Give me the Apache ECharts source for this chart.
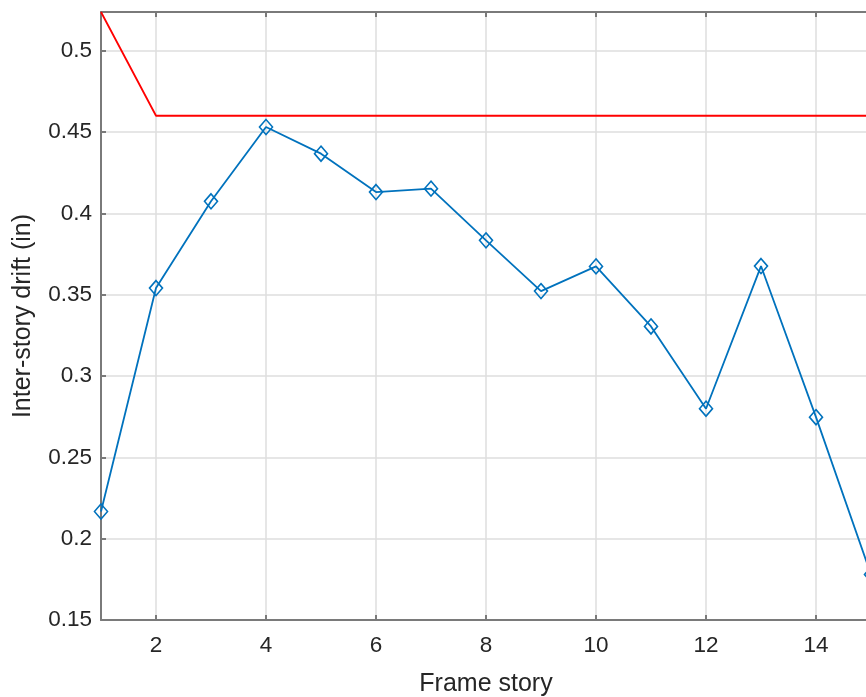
<!DOCTYPE html>
<html>
<head>
<meta charset="utf-8">
<script src="https://cdn.jsdelivr.net/npm/echarts@6/dist/echarts.min.js"></script>
<style>
  html, body { margin: 0; padding: 0; background: #ffffff; overflow: hidden; }
  #chart { width: 866px; height: 697px; }
</style>
</head>
<body>
<div id="chart"></div>
<script>
// Story numbers along the frame height
const stories = [1, 2, 3, 4, 5, 6, 7, 8, 9, 10, 11, 12, 13, 14, 15];
// Computed inter-story drift per story (in)
const drift = [0.2167, 0.3541, 0.4074, 0.4531, 0.4367, 0.4131, 0.4152, 0.3834,
               0.3522, 0.3674, 0.3305, 0.2799, 0.3676, 0.2747, 0.178];
// Allowable drift limit per story (in)
const driftLimit = [0.5238, 0.46, 0.46, 0.46, 0.46, 0.46, 0.46, 0.46,
                    0.46, 0.46, 0.46, 0.46, 0.46, 0.46, 0.46];
// Axis ticks
const xTicks = [2, 4, 6, 8, 10, 12, 14];
const yMin = 0.15, yMax = 0.5238, yStep = 0.05;

const textColor = '#262626';
const axisColor = '#7a7a7a';
const gridColor = '#dedede';
const font = 'Liberation Sans, Arial, Helvetica, sans-serif';

const chart = echarts.init(document.getElementById('chart'), null, { renderer: 'canvas' });

function pairs(xs, ys) { return xs.map((x, i) => [x, ys[i]]); }

const xBase = {
  type: 'value', min: 1, max: 15,
  axisLine: { show: true, onZero: false, lineStyle: { color: axisColor, width: 2 } },
  axisTick: { show: true, inside: true, length: 5, customValues: xTicks, lineStyle: { color: axisColor, width: 2 } }
};
const yBase = {
  type: 'value', min: yMin, max: yMax, interval: yStep,
  axisLine: { show: true, onZero: false, lineStyle: { color: axisColor, width: 2 } },
  axisTick: { show: true, inside: true, length: 5, lineStyle: { color: axisColor, width: 2 } }
};

chart.setOption({
  backgroundColor: '#ffffff',
  animation: false,
  // fixed plot box; the frame runs to story 15, just past the right edge
  grid: { left: 101, top: 12, width: 770, height: 608, containLabel: false, outerBoundsMode: 'none' },
  xAxis: [
    Object.assign({}, xBase, {
      position: 'bottom',
      name: 'Frame story', nameLocation: 'middle', nameGap: 52,
      nameTextStyle: { color: textColor, fontSize: 25, fontFamily: font },
      axisLabel: { show: true, customValues: xTicks, margin: 14, color: textColor, fontSize: 22.5, fontFamily: font },
      splitLine: { show: true, lineStyle: { color: gridColor, width: 1.5 } }
    }),
    Object.assign({}, xBase, {
      position: 'top',
      axisLabel: { show: false },
      splitLine: { show: false }
    })
  ],
  yAxis: [
    Object.assign({}, yBase, {
      position: 'left',
      name: 'Inter-story drift (in)', nameLocation: 'middle', nameGap: 65,
      nameTextStyle: { color: textColor, fontSize: 25, fontFamily: font },
      axisLabel: {
        show: true, margin: 9, color: textColor, fontSize: 22.5, fontFamily: font,
        showMaxLabel: false,
        formatter: v => String(+v.toFixed(2))
      },
      splitLine: { show: true, showMaxLine: false, lineStyle: { color: gridColor, width: 1.5 } }
    }),
    Object.assign({}, yBase, {
      position: 'right',
      axisLabel: { show: false },
      splitLine: { show: false }
    })
  ],
  series: [
    {
      type: 'line',
      data: pairs(stories, driftLimit),
      showSymbol: false,
      symbol: 'none',
      lineStyle: { color: '#ff0000', width: 1.8 },
      itemStyle: { color: '#ff0000' },
      z: 3
    },
    {
      type: 'line',
      data: pairs(stories, drift),
      symbol: 'diamond',
      symbolSize: [13, 15],
      showAllSymbol: true,
      lineStyle: { color: '#0072bd', width: 1.8 },
      itemStyle: { color: 'rgba(255,255,255,0)', borderColor: '#0072bd', borderWidth: 1.6 },
      z: 4
    }
  ]
});
</script>
</body>
</html>
